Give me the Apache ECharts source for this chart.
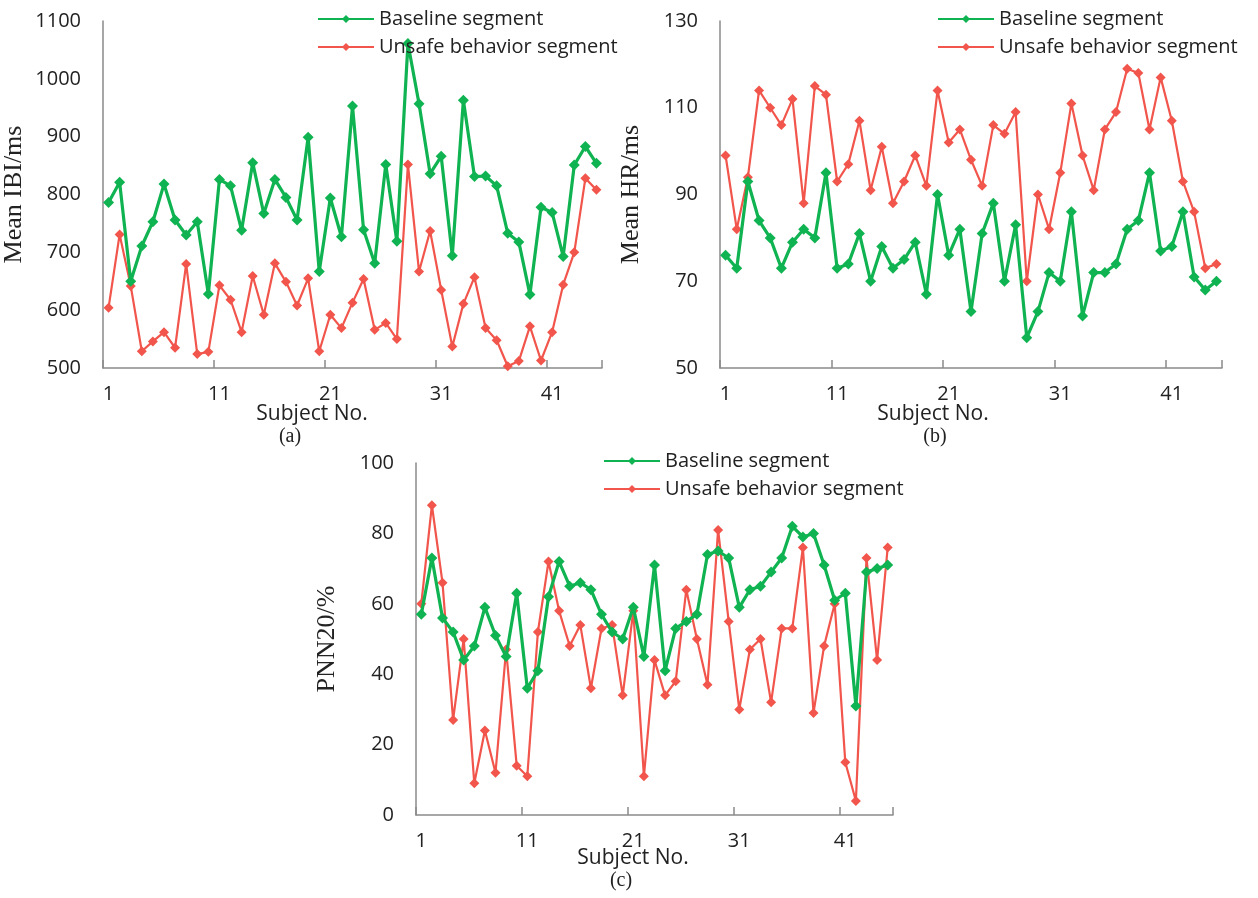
<!DOCTYPE html>
<html>
<head>
<meta charset="utf-8">
<script src="https://cdn.jsdelivr.net/npm/echarts@6/dist/echarts.min.js"></script>
<style>
  html, body { margin: 0; background: #fff; }
  #chart { width: 1258px; height: 898px; }
</style>
</head>
<body>
<div id="chart"></div>
<script>
// subject numbers 1..45
const subjects = Array.from({ length: 45 }, (_, i) => String(i + 1));

// (a) Mean IBI / ms
const ibiBaseline = [786, 821, 650, 711, 753, 818, 756, 730, 753, 628,
  826, 815, 738, 855, 767, 826, 795, 756, 899, 667,
  794, 727, 953, 739, 681, 852, 719, 1061, 957, 836,
  866, 694, 963, 831, 832, 815, 733, 718, 627, 778,
  769, 693, 851, 883, 854];
const ibiUnsafe = [604, 731, 642, 529, 546, 562, 535, 680, 524, 528,
  643, 618, 562, 659, 592, 681, 649, 608, 655, 529,
  592, 569, 613, 654, 566, 578, 550, 852, 667, 737,
  635, 537, 611, 657, 569, 548, 503, 512, 572, 513,
  562, 644, 700, 828, 808];

// (b) Mean HR
const hrBaseline = [76, 73, 93, 84, 80, 73, 79, 82, 80, 95,
  73, 74, 81, 70, 78, 73, 75, 79, 67, 90,
  76, 82, 63, 81, 88, 70, 83, 57, 63, 72,
  70, 86, 62, 72, 72, 74, 82, 84, 95, 77,
  78, 86, 71, 68, 70];
const hrUnsafe = [99, 82, 94, 114, 110, 106, 112, 88, 115, 113,
  93, 97, 107, 91, 101, 88, 93, 99, 92, 114,
  102, 105, 98, 92, 106, 104, 109, 70, 90, 82,
  95, 111, 99, 91, 105, 109, 119, 118, 105, 117,
  107, 93, 86, 73, 74];

// (c) PNN20 / %
const pnnBaseline = [57, 73, 56, 52, 44, 48, 59, 51, 45, 63,
  36, 41, 62, 72, 65, 66, 64, 57, 52, 50,
  59, 45, 71, 41, 53, 55, 57, 74, 75, 73,
  59, 64, 65, 69, 73, 82, 79, 80, 71, 61,
  63, 31, 69, 70, 71];
const pnnUnsafe = [60, 88, 66, 27, 50, 9, 24, 12, 47, 14,
  11, 52, 72, 58, 48, 54, 36, 53, 54, 34,
  58, 11, 44, 34, 38, 64, 50, 37, 81, 55,
  30, 47, 50, 32, 53, 53, 76, 29, 48, 60,
  15, 4, 73, 44, 76];

const GREEN = '#10b351';
const RED = '#f1554b';
const SANS = '"Open Sans", "Noto Sans", sans-serif';
const SERIF = '"Liberation Serif", "DejaVu Serif", serif';

const chart = echarts.init(document.getElementById('chart'));

function xAxisFor(gridIndex) {
  return {
    type: 'category',
    gridIndex,
    data: subjects,
    boundaryGap: true,
    axisLine: { lineStyle: { color: '#8a8a8a', width: 1.5 } },
    axisTick: { show: true, inside: true, length: 8, interval: 9, lineStyle: { color: '#8a8a8a', width: 1.5 } },
    axisLabel: { interval: 9, color: '#222', fontSize: 20, fontFamily: SANS, margin: 16 },
    splitLine: { show: false }
  };
}

function yAxisFor(gridIndex, name, min, max, interval) {
  return {
    type: 'value',
    gridIndex,
    min, max, interval,
    name,
    nameLocation: 'middle',
    nameGap: 76,
    nameTextStyle: { fontFamily: SERIF, fontSize: 26, color: '#222' },
    axisLine: { show: true, lineStyle: { color: '#8a8a8a', width: 1.5 } },
    axisTick: { show: false },
    axisLabel: { color: '#222', fontSize: 20, fontFamily: SANS, margin: 22, formatter: (v) => String(v) },
    splitLine: { show: false }
  };
}

function seriesFor(idx, base, unsafe) {
  return [
    {
      name: 'Baseline segment', type: 'line', xAxisIndex: idx, yAxisIndex: idx,
      data: base, symbol: 'diamond', symbolSize: 11, showAllSymbol: true,
      lineStyle: { color: GREEN, width: 3.2 }, itemStyle: { color: GREEN },
      z: 3
    },
    {
      name: 'Unsafe behavior segment', type: 'line', xAxisIndex: idx, yAxisIndex: idx,
      data: unsafe, symbol: 'diamond', symbolSize: 10, showAllSymbol: true,
      lineStyle: { color: RED, width: 2.2 }, itemStyle: { color: RED },
      z: 2
    }
  ];
}

function legendAt(left, top) {
  return {
    orient: 'vertical', left, top,
    itemWidth: 56, itemHeight: 10, itemGap: 8,
    textStyle: { fontFamily: SANS, fontSize: 20, color: '#222' },
    data: ['Baseline segment', 'Unsafe behavior segment'],
    selectedMode: false
  };
}

function label(text, x, y, font, size) {
  return {
    type: 'text', x, y,
    style: { text, font: size + 'px ' + font, fill: '#222', align: 'center', verticalAlign: 'middle' }
  };
}

chart.setOption({
  animation: false,
  backgroundColor: '#fff',
  grid: [
    { left: 98, top: 21, width: 504, height: 347 },
    { left: 720, top: 21, width: 502, height: 347 },
    { left: 416, top: 463, width: 477, height: 352 }
  ],
  xAxis: [xAxisFor(0), xAxisFor(1), xAxisFor(2)],
  yAxis: [
    yAxisFor(0, 'Mean IBI/ms', 500, 1100, 100),
    yAxisFor(1, 'Mean HR/ms', 50, 130, 20),
    yAxisFor(2, 'PNN20/%', 0, 100, 20)
  ],
  legend: [legendAt(312, 4), legendAt(932, 4), legendAt(598, 446)],
  series: [
    ...seriesFor(0, ibiBaseline, ibiUnsafe),
    ...seriesFor(1, hrBaseline, hrUnsafe),
    ...seriesFor(2, pnnBaseline, pnnUnsafe)
  ],
  graphic: [
    label('Subject No.', 312, 414, SANS, 21),
    label('(a)', 290, 437, SERIF, 20),
    label('Subject No.', 933, 414, SANS, 21),
    label('(b)', 935, 437, SERIF, 20),
    label('Subject No.', 633, 858, SANS, 21),
    label('(c)', 621, 881, SERIF, 20)
  ]
});
</script>
</body>
</html>
